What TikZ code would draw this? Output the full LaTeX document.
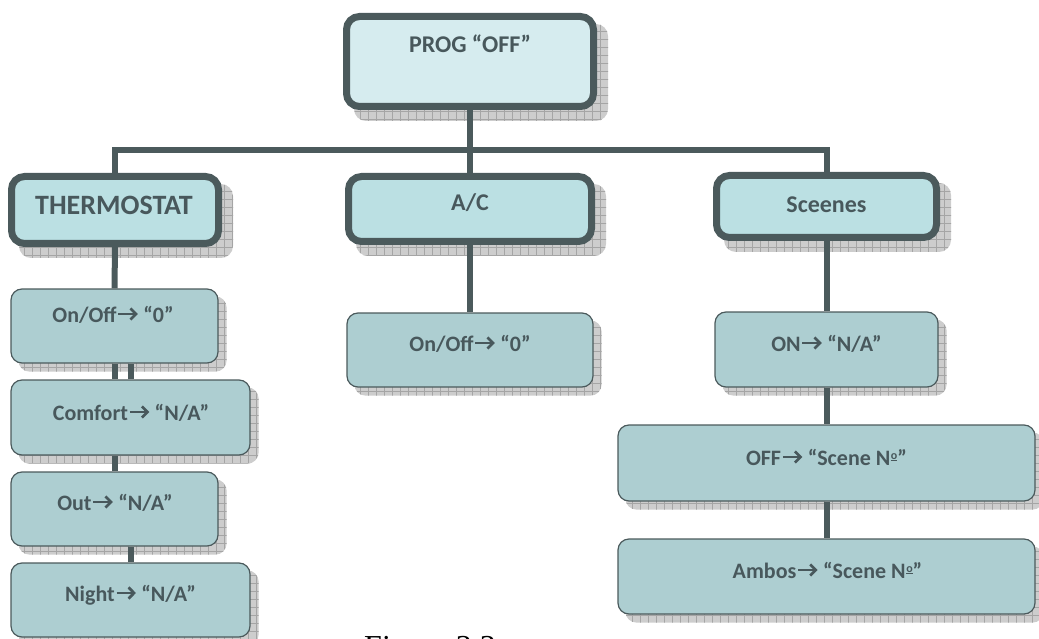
\documentclass[tikz,border=0pt]{standalone}
\usepackage{fontspec}
\setmainfont{Carlito}
\newfontfamily\capfont{Liberation Serif}
\usetikzlibrary{patterns.meta}
\pgfdeclarelayer{background}
\pgfsetlayers{background,main}
\definecolor{edgec}{RGB}{75,90,92}
\definecolor{textc}{RGB}{72,88,92}
\definecolor{progfill}{RGB}{214,236,239}
\definecolor{topfill}{RGB}{187,224,227}
\definecolor{childfill}{RGB}{173,206,209}
\definecolor{shadowc}{RGB}{205,205,205}
\definecolor{gridc}{RGB}{165,165,165}
\newcommand{\rarr}{\kern0.5pt\tikz[baseline=0pt,x=1pt,y=1pt]{%
  \draw[textc,line width=2.7pt,line cap=butt] (0.3,8) -- (17.5,8);
  \draw[textc,line width=2.7pt,line join=miter,line cap=butt] (12.3,13.6) -- (17.8,8) -- (12.3,2.4);}\kern1pt}
\newcommand{\numero}{N\kern0.6pt\raisebox{6pt}{\fontsize{12}{12}\selectfont\underline{o}}}
\tikzset{
  topbox/.style={draw=edgec, line width=7pt, rounded corners=13pt, fill=topfill, inner sep=0pt},
  childbox/.style={draw=edgec, line width=1.2pt, rounded corners=11pt, fill=childfill, inner sep=0pt},
  lbl/.style={text=textc, font=\bfseries\fontsize{22}{26}\selectfont, inner sep=0pt, anchor=base},
  toplbl/.style={lbl, font=\bfseries\fontsize{24}{28}\selectfont},
  conn/.style={draw=edgec, line width=6pt},
  shadowbox/.style={fill=shadowc, rounded corners=12pt,
    postaction={pattern={Hatch[angle=0,distance=8pt,line width=0.5pt]}, pattern color=gridc}}
}
\begin{document}
\begin{tikzpicture}[x=1pt,y=-1pt]
\useasboundingbox (0,0) rectangle (1039,639);
\clip (0,0) rectangle (1039,639);
% top-level boxes
\node[topbox, fill=progfill, minimum width=247pt, minimum height=90pt] (prog) at (470,61.5) {};
\node[topbox, minimum width=207pt, minimum height=67pt] (thermo) at (115,210) {};
\node[topbox, minimum width=243pt, minimum height=65pt] (ac) at (470,209) {};
\node[topbox, minimum width=220pt, minimum height=62pt] (scenes) at (826.5,206.5) {};
% thermostat children
\node[childbox, minimum width=207pt, minimum height=74pt] (ton) at (114.5,326) {};
\node[childbox, minimum width=239pt, minimum height=75pt] (comfort) at (130.5,417.5) {};
\node[childbox, minimum width=207pt, minimum height=74pt] (out) at (114.5,509) {};
\node[childbox, minimum width=239pt, minimum height=74pt] (night) at (130.5,600) {};
% A/C child
\node[childbox, minimum width=246pt, minimum height=74pt] (acon) at (470,350) {};
% scenes children
\node[childbox, minimum width=223pt, minimum height=75pt] (son) at (826.5,349.5) {};
\node[childbox, minimum width=417pt, minimum height=76pt] (soff) at (826.5,463) {};
\node[childbox, minimum width=417pt, minimum height=75pt] (samb) at (826.5,576.5) {};
% labels
\node[toplbl] (prog-t) at (470,53) {PROG “OFF”};
\node[toplbl, font=\bfseries\fontsize{28}{32}\selectfont] (thermo-t) at (114,215) {THERMOSTAT};
\node[toplbl] (ac-t) at (470,211) {A/C};
\node[toplbl] (scenes-t) at (826.5,213) {Sceenes};
\node[lbl] (ton-t) at (113,322) {On/Off\rarr{} “0”};
\node[lbl] (comfort-t) at (131,420) {Comfort\rarr{} “N/A”};
\node[lbl] (out-t) at (115,510) {Out\rarr{} “N/A”};
\node[lbl] (night-t) at (130.5,601) {Night\rarr{} “N/A”};
\node[lbl] (acon-t) at (470,351) {On/Off\rarr{} “0”};
\node[lbl] (son-t) at (826.5,351) {ON\rarr{} “N/A”};
\node[lbl] (soff-t) at (826.5,465) {OFF\rarr{} “Scene \numero”};
\node[lbl] (samb-t) at (827.5,578) {Ambos\rarr{} “Scene \numero”};
% caption (cut off by the page edge, as in the reference)
\node[anchor=north, inner sep=0pt, font=\capfont\mdseries\upshape\fontsize{32}{36}\selectfont, text=black] (cap) at (430,636) {Figure 3.3};
\begin{pgfonlayer}{background}
  % shadows
  \foreach \n in {prog,thermo,ac,scenes}
    \fill[shadowbox] ([shift={(11,11)}]\n.south west) rectangle ([shift={(11,11)}]\n.north east);
  \foreach \n in {ton,comfort,out,night,acon,son,soff,samb}
    \fill[shadowbox, rounded corners=11pt] ([shift={(8,8)}]\n.south west) rectangle ([shift={(8,8)}]\n.north east);
  % connectors
  \coordinate (bus) at (470,150);
  \draw[conn] (prog.south) -- (ac.north);
  \draw[conn] (thermo.north) |- (bus) -| (scenes.north);
  \draw[conn] (ac.south) -- (acon.north);
  \draw[conn] (thermo.south) -- (ton.north);
  \draw[conn] (ton.south) -- (ton.south |- comfort.north);
  \draw[conn] (comfort.north) -- (comfort.north |- ton.south);
  \draw[conn] (out.north) -- (out.north |- comfort.south);
  \draw[conn] (night.north) -- (night.north |- out.south);
  \draw[conn] (scenes.south) -- (son.north);
  \draw[conn] (son.south) -- (soff.north);
  \draw[conn] (soff.south) -- (samb.north);
\end{pgfonlayer}
\end{tikzpicture}
\end{document}
